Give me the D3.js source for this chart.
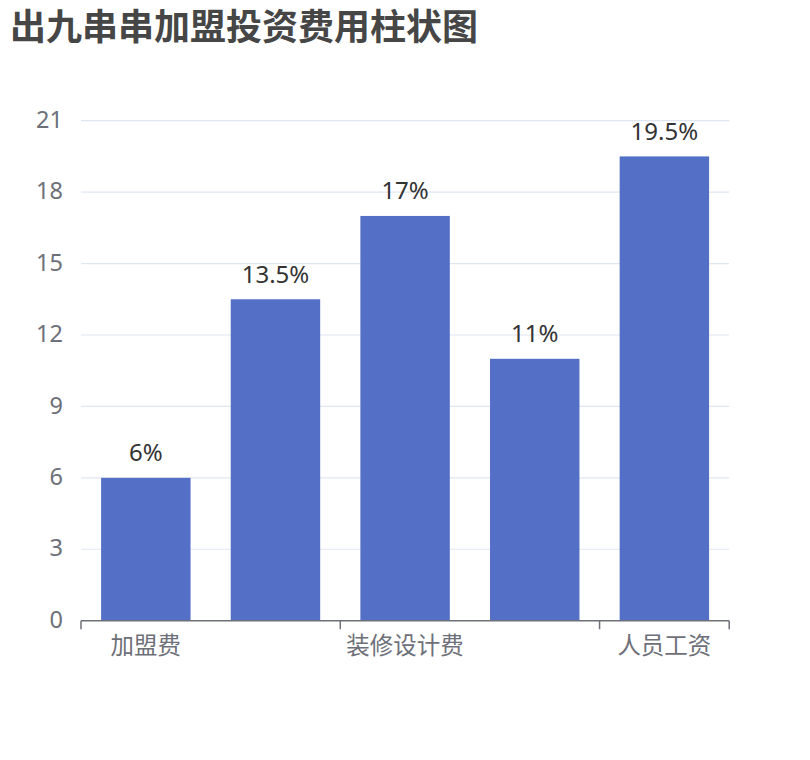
<!DOCTYPE html>
<html>
<head>
<meta charset="utf-8">
<script src="https://cdn.jsdelivr.net/npm/d3@7/dist/d3.min.js"></script>
<style>
  html, body { margin: 0; padding: 0; background: #fff; }
  svg { display: block; }
</style>
</head>
<body>
<svg id="chart" width="810" height="760"></svg>
<script>
// ---- data ----
const title = "出九串串加盟投资费用柱状图";
const categories = ["加盟费", "店面租金", "装修设计费", "设备费用", "人员工资"];
const values = [6, 13.5, 17, 11, 19.5];
const yTicks = [0, 3, 6, 9, 12, 15, 18, 21];
const labelSuffix = "%";

// ---- layout ----
const W = 810, H = 760;
const margin = { left: 81, right: 81, top: 120.7, bottom: 139.3 };
const FONT = "'Noto Sans', 'Noto Sans CJK SC', sans-serif";

const svg = d3.select("#chart");
svg.append("rect").attr("width", W).attr("height", H).attr("fill", "#fff");

svg.append("text")
  .attr("x", 10).attr("y", 40)
  .attr("font-family", "'Noto Sans CJK SC', sans-serif")
  .attr("font-weight", "bold")
  .attr("font-size", 36)
  .attr("fill", "#464646")
  .text(title);

const x = d3.scaleBand()
  .domain(categories)
  .range([margin.left, W - margin.right + 0.2])
  .padding(0);

const y = d3.scaleLinear()
  .domain([0, 21])
  .range([H - margin.bottom, margin.top]);

// grid lines
svg.append("g")
  .selectAll("line")
  .data(yTicks.filter(d => d !== 0))
  .join("line")
  .attr("x1", margin.left).attr("x2", W - margin.right + 0.2)
  .attr("y1", d => y(d)).attr("y2", d => y(d))
  .attr("stroke", "#E0E6F1").attr("stroke-width", 1.2);

// y axis labels (no line)
const yAxis = d3.axisLeft(y).tickValues(yTicks).tickSize(0).tickPadding(18);
const gy = svg.append("g").attr("transform", `translate(${margin.left},0)`).call(yAxis);
gy.select(".domain").remove();
gy.selectAll("text")
  .attr("font-family", FONT)
  .attr("font-size", 23.5)
  .attr("fill", "#6E7079")
  .attr("dy", "0.28em");

// bars
const barW = x.bandwidth() * 0.69;
svg.append("g")
  .selectAll("rect")
  .data(values)
  .join("rect")
  .attr("x", (d, i) => x(categories[i]) + (x.bandwidth() - barW) / 2)
  .attr("width", barW)
  .attr("y", d => y(d))
  .attr("height", d => y(0) - y(d))
  .attr("fill", "#5470C6");

// value labels
svg.append("g")
  .selectAll("text")
  .data(values)
  .join("text")
  .attr("x", (d, i) => x(categories[i]) + x.bandwidth() / 2)
  .attr("y", d => y(d) - 16.5)
  .attr("text-anchor", "middle")
  .attr("font-family", FONT)
  .attr("font-size", 24)
  .attr("fill", "#333")
  .text(d => d + labelSuffix);

// x axis
const gx = svg.append("g").attr("transform", `translate(0,${y(0)})`);
gx.append("line")
  .attr("x1", x.range()[0]).attr("x2", x.range()[1])
  .attr("stroke", "#6E7079").attr("stroke-width", 1.5);
const shown = categories.filter((c, i) => i % 2 === 0);
const tickPos = shown.map(c => x(c)).concat([x.range()[1]]);
gx.selectAll("line.tick")
  .data(tickPos)
  .join("line")
  .attr("class", "tick")
  .attr("x1", d => d).attr("x2", d => d)
  .attr("y1", 0).attr("y2", 8.5)
  .attr("stroke", "#6E7079").attr("stroke-width", 1.5);
gx.selectAll("text")
  .data(shown)
  .join("text")
  .attr("x", d => x(d) + x.bandwidth() / 2)
  .attr("y", 33)
  .attr("text-anchor", "middle")
  .attr("font-family", FONT)
  .attr("font-size", 23.5)
  .attr("fill", "#6E7079")
  .text(d => d);
</script>
</body>
</html>
